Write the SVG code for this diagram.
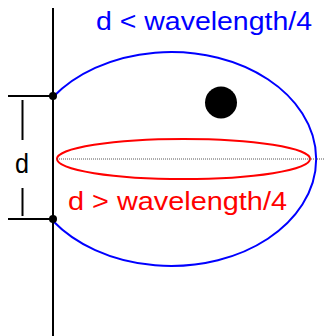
<svg xmlns="http://www.w3.org/2000/svg" width="325" height="336" viewBox="0 0 325 336">
<style>
.lbl{font-family:"Liberation Sans",Arial,sans-serif;font-size:25px}
.blk{stroke:#000;stroke-width:2;fill:none}
</style>
<rect width="325" height="336" fill="#fff"/>
<g id="axis">
<line class="blk" x1="53" y1="8" x2="53" y2="336"/>
</g>
<g id="dimension">
<line class="blk" x1="8" y1="96" x2="51" y2="96"/>
<line class="blk" x1="8" y1="219" x2="51" y2="219"/>
<line class="blk" x1="22.5" y1="100" x2="22.5" y2="140"/>
<line class="blk" x1="22.5" y1="188" x2="22.5" y2="216"/>
<text class="lbl" x="22" y="173" text-anchor="middle" fill="#000" style="font-size:28px" textLength="14" lengthAdjust="spacingAndGlyphs">d</text>
</g>
<g id="blue-lobe">
<path d="M53,97 A145,107 0 1 1 53,221" fill="none" stroke="#0000ff" stroke-width="2"/>
<text class="lbl" x="96" y="30" fill="#0000ff" textLength="216" lengthAdjust="spacingAndGlyphs">d &lt; wavelength/4</text>
</g>
<g id="red-lobe">
<ellipse cx="183.5" cy="159" rx="126.5" ry="20" fill="none" stroke="#ff0000" stroke-width="2"/>
<text class="lbl" x="68" y="210" fill="#ff0000" textLength="219" lengthAdjust="spacingAndGlyphs">d &gt; wavelength/4</text>
</g>
<g id="connectors">
<line x1="57" y1="159" x2="325" y2="159" stroke="#555" stroke-width="1" stroke-dasharray="1,1"/>
</g>
<g id="dots">
<circle cx="53" cy="96" r="4" fill="#000"/>
<circle cx="53" cy="219" r="4" fill="#000"/>
<circle cx="221" cy="102.5" r="16" fill="#000"/>
</g>
</svg>
